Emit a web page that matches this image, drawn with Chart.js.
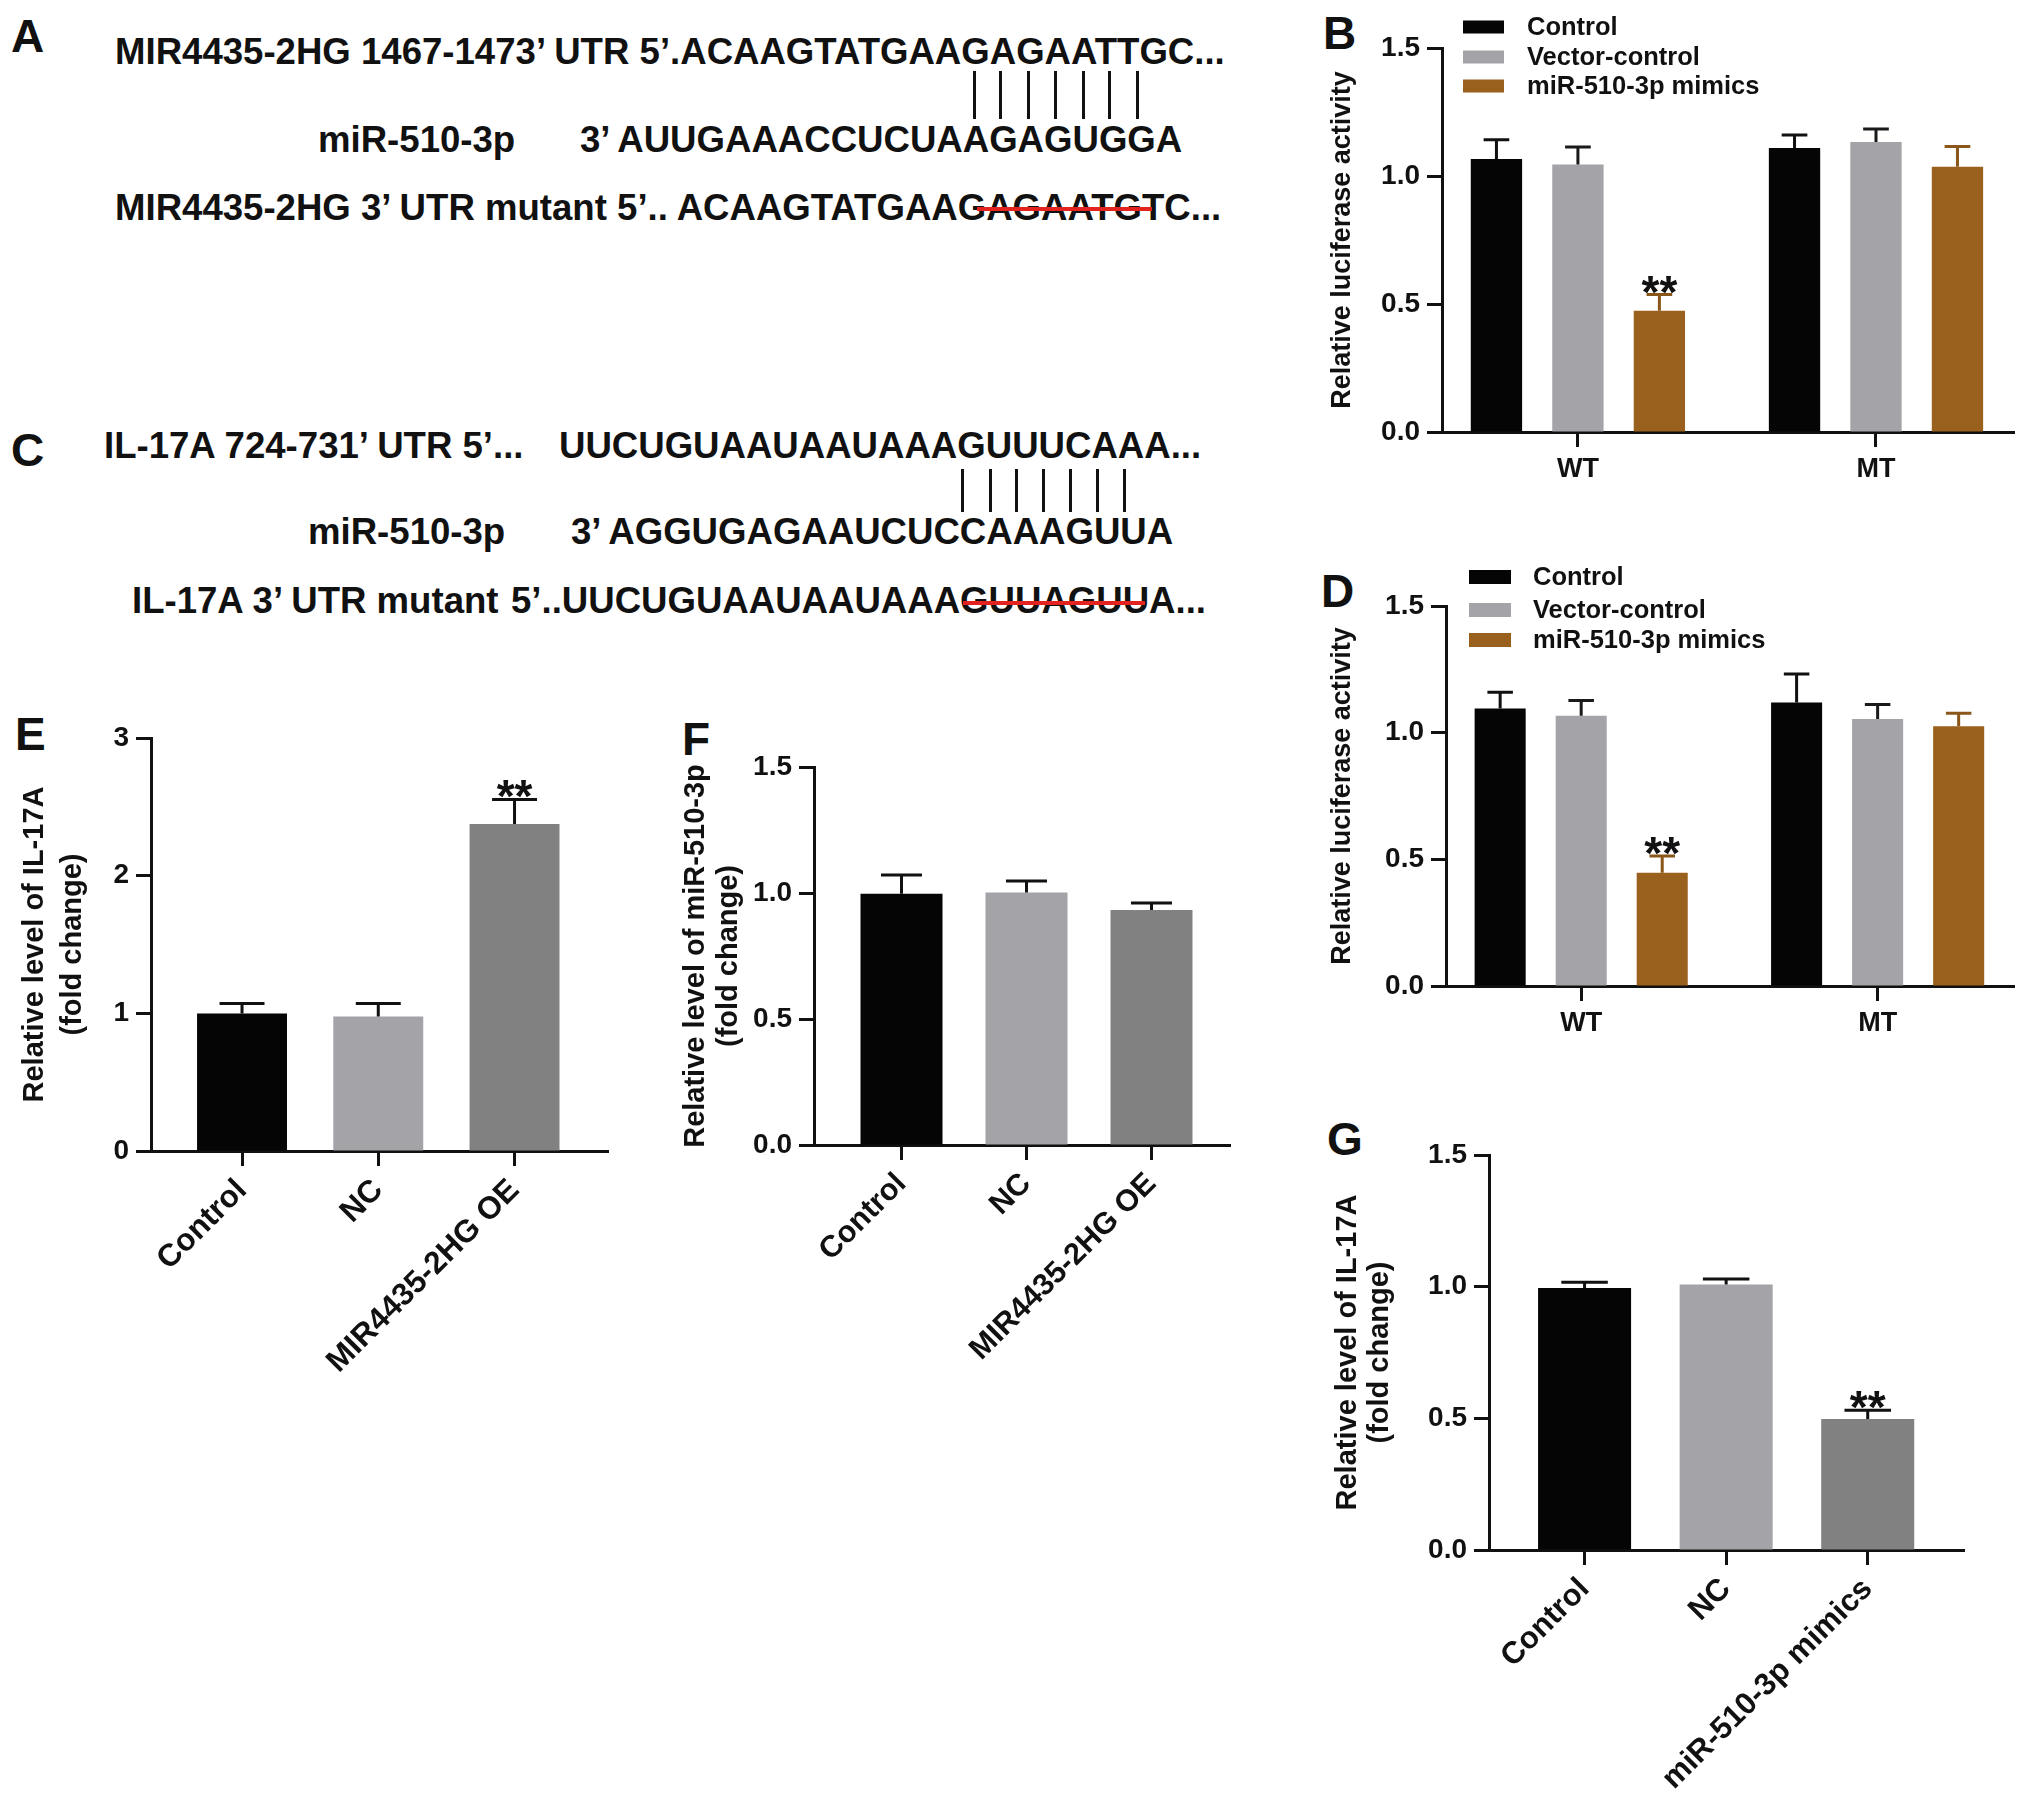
<!DOCTYPE html>
<html><head><meta charset="utf-8">
<script src="https://cdn.jsdelivr.net/npm/chart.js@4.4.1/dist/chart.umd.min.js"></script>
<style>
html,body{margin:0;padding:0;background:#fff;}
#page{position:relative;width:2031px;height:1805px;overflow:hidden;background:#fff;font-family:'Liberation Sans',Arial,Helvetica,sans-serif;font-weight:bold;color:#111;}
.t{position:absolute;white-space:pre;font-size:36.6px;line-height:36px;}
.lab{position:absolute;font-size:46px;line-height:46px;}
.mb{position:absolute;width:3px;background:#111;}
.red{position:absolute;height:4px;background:#e3231f;}
.cw{position:absolute;}
.cw canvas{display:block;}
</style></head>
<body><div id="page">
<div class="lab" style="left:11px;top:13px">A</div>
<div class="lab" style="left:1323px;top:10px">B</div>
<div class="lab" style="left:11px;top:427px">C</div>
<div class="lab" style="left:1321px;top:568px">D</div>
<div class="lab" style="left:15px;top:711px">E</div>
<div class="lab" style="left:682px;top:716px">F</div>
<div class="lab" style="left:1327px;top:1116px">G</div>

<div class="t" style="left:115px;top:34px">MIR4435-2HG 1467-1473’ UTR 5’.ACAAGTATGAAGAGAATTGC...</div>
<div class="t" style="left:318px;top:122px">miR-510-3p</div>
<div class="t" style="left:580px;top:122px">3’ AUUGAAACCUCUAAGAGUGGA</div>
<div class="t" style="left:115px;top:190px">MIR4435-2HG 3’ UTR mutant 5’.. ACAAGTATGAAGAGAATGTC...</div>
<div class="red" style="left:977px;top:207px;width:175px"></div>

<div class="t" style="left:104px;top:428px">IL-17A 724-731’ UTR 5’...</div>
<div class="t" style="left:559px;top:428px">UUCUGUAAUAAUAAAGUUUCAAA...</div>
<div class="t" style="left:308px;top:514px">miR-510-3p</div>
<div class="t" style="left:571px;top:514px">3’ AGGUGAGAAUCUCCAAAGUUA</div>
<div class="t" style="left:132px;top:583px">IL-17A 3’ UTR mutant</div>
<div class="t" style="left:511px;top:583px">5’..UUCUGUAAUAAUAAAGUUAGUUA...</div>
<div class="red" style="left:963px;top:601px;width:182px"></div>

<div id="matchA"></div>
<div id="matchC"></div>

<div class="cw" id="wB"><canvas id="cB"></canvas></div>
<div class="cw" id="wD"><canvas id="cD"></canvas></div>
<div class="cw" id="wE"><canvas id="cE"></canvas></div>
<div class="cw" id="wF"><canvas id="cF"></canvas></div>
<div class="cw" id="wG"><canvas id="cG"></canvas></div>
</div>
<script>
// ---------------- data ----------------
const lucGroups = ['WT', 'MT'];
const lucSeries = ['Control', 'Vector-control', 'miR-510-3p mimics'];

const bControl = [1.066, 1.109];
const bControlErr = [0.076, 0.051];
const bVector = [1.045, 1.133];
const bVectorErr = [0.068, 0.051];
const bMimics = [0.474, 1.036];
const bMimicsErr = [0.063, 0.079];
const bMimicsStars = ['**', ''];

const dControl = [1.095, 1.119];
const dControlErr = [0.065, 0.113];
const dVector = [1.067, 1.054];
const dVectorErr = [0.060, 0.057];
const dMimics = [0.447, 1.025];
const dMimicsErr = [0.066, 0.052];
const dMimicsStars = ['**', ''];

const eCategories = ['Control', 'NC', 'MIR4435-2HG OE'];
const eValues = [0.998, 0.977, 2.375];
const eErrors = [0.074, 0.095, 0.179];
const eStars = ['', '', '**'];

const fCategories = ['Control', 'NC', 'MIR4435-2HG OE'];
const fValues = [0.997, 1.002, 0.933];
const fErrors = [0.074, 0.046, 0.027];

const gCategories = ['Control', 'NC', 'miR-510-3p mimics'];
const gValues = [0.995, 1.008, 0.497];
const gErrors = [0.022, 0.021, 0.034];
const gStars = ['', '', '**'];

const yTicks15 = [0, 0.5, 1.0, 1.5];
const yTicks3 = [0, 1, 2, 3];

// ---------------- style ----------------
const FONT = "'Liberation Sans', Arial, Helvetica, sans-serif";
const TXT = '#111';
const cBlack = '#050505';
const cGray = '#a3a3a8';
const cBrown = '#9a601d';
const cDark = '#818181';

Chart.defaults.font.family = FONT;
Chart.defaults.font.weight = 'bold';
Chart.defaults.color = TXT;

// match bars in sequence panels
[[[973, 999, 1027, 1054, 1082, 1108, 1136], 71, 48, 'matchA'],
 [[961, 989, 1015, 1042, 1069, 1096, 1123], 469, 43, 'matchC']].forEach(([xs, top, h, id]) => {
  const host = document.getElementById(id);
  xs.forEach(x => {
    const d = document.createElement('div');
    d.className = 'mb';
    d.style.left = x + 'px'; d.style.top = top + 'px'; d.style.height = h + 'px';
    host.appendChild(d);
  });
});

const errorBarPlugin = {
  id: 'errbars',
  afterDatasetsDraw(chart) {
    const ctx = chart.ctx, y = chart.scales.y;
    chart.data.datasets.forEach((ds, di) => {
      if (!ds.errors) return;
      const meta = chart.getDatasetMeta(di);
      meta.data.forEach((bar, i) => {
        const v = ds.data[i].y, e = ds.errors[i];
        const top = y.getPixelForValue(v + e);
        const col = Array.isArray(ds.errorColor) ? ds.errorColor[i] : ds.errorColor;
        const w = bar.width * 0.5;
        ctx.save();
        ctx.strokeStyle = col; ctx.lineWidth = 3; ctx.lineCap = 'butt';
        ctx.beginPath();
        ctx.moveTo(bar.x, bar.y); ctx.lineTo(bar.x, top);
        ctx.moveTo(bar.x - w / 2, top); ctx.lineTo(bar.x + w / 2, top);
        ctx.stroke();
        const s = ds.stars && ds.stars[i];
        if (s) {
          ctx.fillStyle = TXT;
          ctx.font = 'bold 46px ' + FONT;
          ctx.textAlign = 'center'; ctx.textBaseline = 'alphabetic';
          ctx.fillText(s, bar.x, top + 13);
        }
        ctx.restore();
      });
    });
  }
};

const boxLegendPlugin = {
  id: 'boxLegend',
  afterDraw(chart, args, opts) {
    if (!opts || !opts.rows) return;
    const ctx = chart.ctx, ca = chart.chartArea;
    ctx.save();
    chart.data.datasets.forEach((ds, i) => {
      const cy = ca.top + opts.rows[i];
      const x0 = ca.left + opts.dx;
      ctx.fillStyle = ds.backgroundColor;
      ctx.fillRect(x0, cy - opts.boxH / 2, opts.boxW, opts.boxH);
      ctx.fillStyle = TXT;
      ctx.font = 'bold 25.5px ' + FONT;
      ctx.textAlign = 'left'; ctx.textBaseline = 'middle';
      ctx.fillText(ds.label, x0 + opts.boxW + opts.gap, cy + 1);
    });
    ctx.restore();
  }
};

function place(id, L) {
  const left = Math.round(L.titleX - L.lh / 2);
  const top = Math.round(L.top - L.padTop);
  const el = document.getElementById(id);
  el.style.left = left + 'px';
  el.style.top = top + 'px';
  el.style.width = Math.round(L.right + 6 - left) + 'px';
  el.style.height = Math.round(L.bottom - top + L.xH + 6) + 'px';
  return { yW: L.axisX - left, padTop: L.top - top };
}

function makeChart(canvasId, wrapId, L, cfg) {
  const P = place(wrapId, L);
  const xLabels = cfg.xLabels;
  return new Chart(document.getElementById(canvasId), {
    type: 'bar',
    data: { datasets: cfg.datasets },
    options: {
      responsive: true, maintainAspectRatio: false, animation: false, devicePixelRatio: 1,
      layout: { padding: { top: P.padTop, left: 0, right: 6, bottom: 6 } },
      datasets: { bar: { categoryPercentage: cfg.catPct, barPercentage: cfg.barPct, borderWidth: 0 } },
      plugins: { legend: { display: false }, tooltip: { enabled: false }, boxLegend: cfg.legend || false },
      scales: {
        x: {
          type: 'linear', offset: false, min: cfg.xMin, max: cfg.xMax,
          afterBuildTicks: s => { s.ticks = xLabels.map((_, i) => ({ value: i })); },
          afterFit: s => { s.height = L.xH; },
          grid: { display: true, drawOnChartArea: false, drawTicks: true, offset: false, tickLength: 15, tickWidth: 3, tickColor: '#111' },
          border: { display: true, color: '#111', width: 3 },
          ticks: {
            autoSkip: false, padding: cfg.xPad, minRotation: cfg.rot, maxRotation: cfg.rot,
            font: { size: cfg.xFont, weight: 'bold' }, color: TXT,
            callback: v => xLabels[Math.round(v)] ?? ''
          }
        },
        y: {
          min: 0, max: cfg.yMax,
          afterBuildTicks: s => { s.ticks = cfg.yTicks.map(v => ({ value: v })); },
          afterFit: s => { s.width = P.yW; },
          grid: { display: true, drawOnChartArea: false, drawTicks: true, tickLength: 15, tickWidth: 3, tickColor: '#111' },
          border: { display: true, color: '#111', width: 3 },
          ticks: { padding: 7, font: { size: 28, weight: 'bold' }, color: TXT, callback: cfg.yFmt },
          title: {
            display: true, text: cfg.yTitle, color: TXT, padding: 0,
            font: { size: cfg.titleSize, weight: 'bold', lineHeight: L.lh / cfg.titleSize }
          }
        }
      }
    },
    plugins: [errorBarPlugin, boxLegendPlugin]
  });
}

const pts = arr => arr.map((v, i) => ({ x: i, y: v }));
const fmt1 = v => Number(v).toFixed(1);
const fmt0 = v => String(v);

// Panel B
makeChart('cB', 'wB',
  { titleX: 1343, lh: 32, axisX: 1442, top: 48, bottom: 432, right: 2014, padTop: 46, xH: 70 },
  {
    xLabels: lucGroups, xMin: -0.456, xMax: 1.463, catPct: 0.82, barPct: 0.63, rot: 0, xFont: 27, xPad: 6,
    yMax: 1.5, yTicks: yTicks15, yFmt: fmt1, yTitle: 'Relative luciferase activity', titleSize: 27,
    legend: { rows: [-21, 9, 38], dx: 21, boxW: 41, boxH: 13, gap: 23 },
    datasets: [
      { label: lucSeries[0], data: pts(bControl), errors: bControlErr, backgroundColor: cBlack, errorColor: '#111' },
      { label: lucSeries[1], data: pts(bVector), errors: bVectorErr, backgroundColor: cGray, errorColor: '#1a1a1a' },
      { label: lucSeries[2], data: pts(bMimics), errors: bMimicsErr, stars: bMimicsStars, backgroundColor: cBrown, errorColor: '#8a561a' }
    ]
  });

// Panel D
makeChart('cD', 'wD',
  { titleX: 1343, lh: 32, axisX: 1446, top: 606, bottom: 986, right: 2014, padTop: 52, xH: 70 },
  {
    xLabels: lucGroups, xMin: -0.456, xMax: 1.46, catPct: 0.82, barPct: 0.63, rot: 0, xFont: 27, xPad: 6,
    yMax: 1.5, yTicks: yTicks15, yFmt: fmt1, yTitle: 'Relative luciferase activity', titleSize: 27,
    legend: { rows: [-29, 4, 34], dx: 23, boxW: 42, boxH: 14, gap: 22 },
    datasets: [
      { label: lucSeries[0], data: pts(dControl), errors: dControlErr, backgroundColor: cBlack, errorColor: '#111' },
      { label: lucSeries[1], data: pts(dVector), errors: dVectorErr, backgroundColor: cGray, errorColor: '#1a1a1a' },
      { label: lucSeries[2], data: pts(dMimics), errors: dMimicsErr, stars: dMimicsStars, backgroundColor: cBrown, errorColor: '#8a561a' }
    ]
  });

// Panel E
makeChart('cE', 'wE',
  { titleX: 35, lh: 38, axisX: 151, top: 738, bottom: 1151, right: 608, padTop: 26, xH: 235 },
  {
    xLabels: eCategories, xMin: -0.668, xMax: 2.686, catPct: 1, barPct: 0.66, rot: 45, xFont: 31.5, xPad: 6,
    yMax: 3, yTicks: yTicks3, yFmt: fmt0, yTitle: ['Relative level of IL-17A', '(fold change)'], titleSize: 29,
    datasets: [
      { label: 'IL-17A', data: pts(eValues), errors: eErrors, stars: eStars, backgroundColor: [cBlack, cGray, cDark], errorColor: '#111' }
    ]
  });

// Panel F
makeChart('cF', 'wF',
  { titleX: 695, lh: 33, axisX: 814, top: 767, bottom: 1145, right: 1230, padTop: 26, xH: 235 },
  {
    xLabels: fCategories, xMin: -0.70, xMax: 2.628, catPct: 1, barPct: 0.656, rot: 45, xFont: 30.5, xPad: 6,
    yMax: 1.5, yTicks: yTicks15, yFmt: fmt1, yTitle: ['Relative level of miR-510-3p', '(fold change)'], titleSize: 29,
    datasets: [
      { label: 'miR-510-3p', data: pts(fValues), errors: fErrors, backgroundColor: [cBlack, cGray, cDark], errorColor: '#111' }
    ]
  });

// Panel G
makeChart('cG', 'wG',
  { titleX: 1348, lh: 32, axisX: 1489, top: 1155, bottom: 1550, right: 1964, padTop: 26, xH: 250 },
  {
    xLabels: gCategories, xMin: -0.675, xMax: 2.68, catPct: 1, barPct: 0.657, rot: 45, xFont: 31, xPad: 6,
    yMax: 1.5, yTicks: yTicks15, yFmt: fmt1, yTitle: ['Relative level of IL-17A', '(fold change)'], titleSize: 29,
    datasets: [
      { label: 'IL-17A', data: pts(gValues), errors: gErrors, stars: gStars, backgroundColor: [cBlack, cGray, cDark], errorColor: '#111' }
    ]
  });
</script>
</body></html>
